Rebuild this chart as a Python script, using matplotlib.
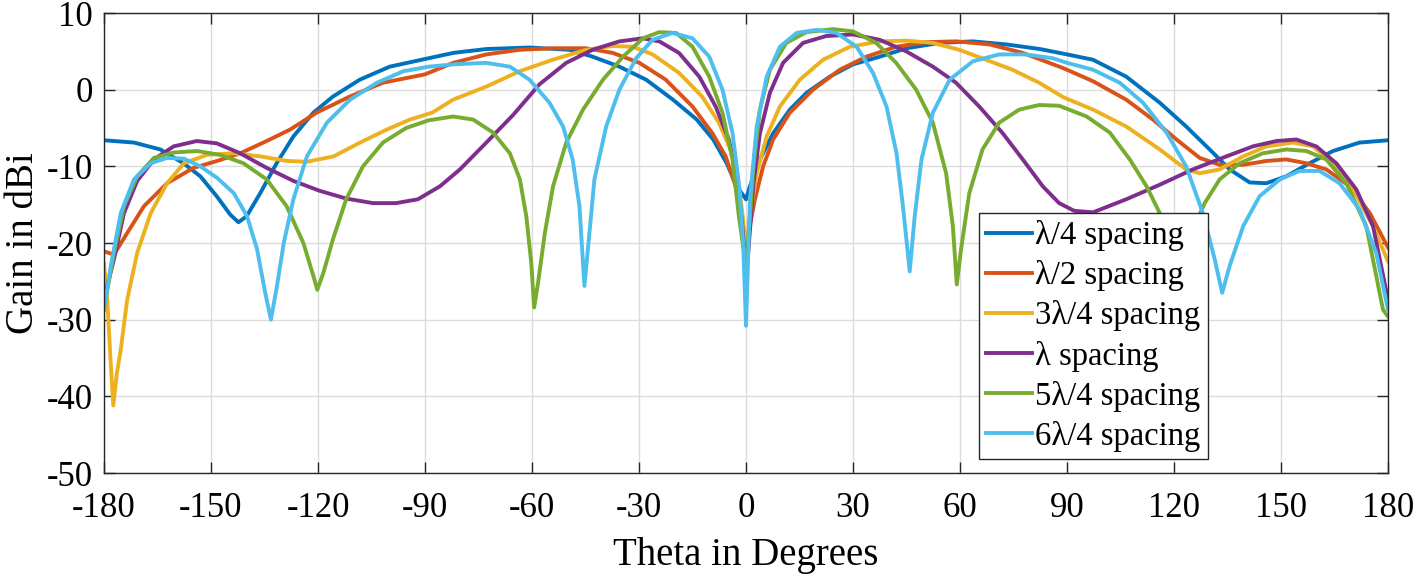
import matplotlib
matplotlib.use('Agg')
import matplotlib.pyplot as plt

# angle / gain samples, one pair of lists per spacing
theta_l4 = [-180, -171.6, -164.2, -157.7, -153, -148.4, -144.6, -142.3, -140, -136.2, -131.6, -126.9,
            -121.3, -115.8, -108.3, -99.9, -90, -82, -72.8, -60.7, -49.5, -43, -35.5, -28, -20.5,
            -13.8, -9.2, -5.4, -2.6, 0, 1.1, 3.9, 7.6, 12.3, 17, 23.5, 30, 37.5, 45, 54.3, 63.5, 73,
            82.4, 90, 97.3, 106.6, 116, 123.4, 130, 135.6, 141.2, 145.9, 151.5, 158, 164.6, 172, 180]
gain_l4 = [-6.6, -6.9, -7.8, -9.6, -11.3, -13.9, -16.3, -17.3, -16.5, -13.5, -9.6, -6.1,
           -3.0, -0.9, 1.3, 3.0, 4.0, 4.8, 5.3, 5.5, 5.2, 4.3, 3.0, 1.3, -1.3,
           -3.9, -6.5, -9.6, -12.6, -14.3, -12.6, -9.1, -5.7, -2.6, -0.4, 1.7, 3.3, 4.3, 5.4, 6.1, 6.3, 5.9,
           5.3, 4.6, 3.9, 1.7, -1.7, -4.8, -7.8, -10.4, -12.1, -12.2, -11.3, -9.6, -8.0, -6.9, -6.6]

theta_l2 = [-180, -177.2, -173.5, -168.8, -162.3, -154.9, -148.3, -141.8, -134.4, -127.8, -120.4,
            -111.1, -101.8, -90, -82.1, -72.8, -63.5, -54.1, -44.8, -37.4, -29.9, -22.5, -15, -9.4,
            -5.7, -2.9, -1.5, 0, 0.7, 2.5, 4.8, 7.6, 12.3, 18.8, 26.3, 33.7, 42.1, 50.5, 58.9, 68.3,
            77.6, 89, 97.3, 106.6, 114.1, 120.7, 127.2, 132.8, 139.4, 145.9, 151.5, 157.1, 162.7,
            169.3, 174.9, 180]
gain_l2 = [-21.1, -21.5, -18.7, -15.2, -12.2, -10.2, -9.3, -8.3, -6.7, -5.2, -3.0,
           -0.9, 0.9, 2.0, 3.5, 4.6, 5.2, 5.4, 5.4, 4.8, 3.5, 1.3, -2.2, -5.7,
           -8.7, -12.6, -16.1, -21.5, -18.7, -14.3, -10.0, -6.5, -3.0, 0.0, 2.6, 4.3, 5.6, 6.2, 6.3, 5.9,
           4.8, 2.8, 1.1, -1.3, -3.9, -6.5, -8.9, -9.8, -9.8, -9.3, -9.1, -9.6, -10.4,
           -12.6, -16.1, -20.6]

theta_3l4 = [-180, -179, -178.2, -177.4, -176.4, -175.3, -173.5, -170.7, -166.9, -162.3, -157.6,
             -151.1, -143.6, -136.2, -128.7, -123.1, -115.6, -108.2, -100.7, -94.2, -88, -82.1,
             -72.8, -63.5, -54.2, -44.8, -37.4, -31.8, -26.2, -18.8, -12.3, -7.6, -3.9, -2, -0.8,
             0, 0.6, 1.1, 3, 5.8, 9.5, 15.1, 21.6, 29.1, 37.5, 45, 52.4, 59.8, 67.3, 74.7, 82.2, 89,
             97.3, 106.6, 116, 123.4, 127.2, 132.8, 139.4, 145.9, 153.4, 159, 164.6, 170.2, 175.8, 180]
gain_3l4 = [-22.7, -28, -35, -41.2, -37, -33.9, -27.4, -21.3, -16.1, -12.2, -9.6,
            -8.5, -8.3, -8.7, -9.3, -9.4, -8.7, -6.9, -5.2, -3.9, -3.0, -1.3,
            0.4, 2.4, 3.9, 5.2, 5.7, 5.6, 4.6, 2.2, -0.9, -4.3, -8.3, -12.6, -17.0,
            -21.5, -18.5, -16.5, -10.9, -6.1, -2.2, 1.3, 3.9, 5.6, 6.3, 6.4, 6.1, 5.2, 3.9, 2.6, 0.9, -1.0,
            -2.6, -4.8, -7.8, -10.4, -10.9, -10.4, -8.7, -7.4, -6.9, -7.4, -9.6, -13.0, -17.8, -22.4]

theta_l = [-180, -177.2, -174.4, -170.7, -166, -160.5, -154, -148.4, -141.8, -134.4, -126.9, -119.5,
           -112.1, -104.6, -98.1, -92, -85.8, -80.2, -72.8, -65.3, -57.9, -50.4, -43, -35.5, -29,
           -24.3, -18.8, -13.1, -8.5, -4.8, -2.4, -1, 0, 0.7, 2.1, 3.9, 6.7, 10.4, 16, 22.5, 30, 37.5,
           44.9, 52.4, 58.9, 65.4, 72, 77.6, 83.2, 87.8, 92, 97.3, 106.6, 116, 125.3, 134.7, 142.1,
           148.7, 154.3, 159.9, 165.5, 171.1, 175.8, 180]
gain_l = [-27.3, -22.1, -16.1, -11.9, -9.1, -7.4, -6.7, -7.0, -8.3, -10.2, -11.9, -13.2,
          -14.2, -14.8, -14.8, -14.3, -12.6, -10.4, -6.9, -3.3, 0.7, 3.5, 5.2, 6.3, 6.7,
          6.3, 4.8, 1.7, -2.2, -6.5, -11.7, -18.0, -24.0, -20.8, -12.2, -5.7, -0.4, 3.5, 6.1, 7.0, 7.2, 6.5,
          5.0, 3.0, 0.9, -2.2, -5.7, -9.1, -12.6, -14.8, -15.8, -16.0, -14.3, -12.4, -10.4, -8.7, -7.4,
          -6.7, -6.5, -7.4, -9.6, -13.0, -17.8, -27.4]

theta_5l4 = [-180, -177.2, -174.4, -170.7, -166, -160.5, -154, -147.5, -140.9, -134.4, -128.8, -124.1,
             -121.3, -120.2, -118.5, -115.8, -112.1, -107.4, -101.8, -95.3, -89, -82.1, -76.5, -70.9,
             -66.2, -63.4, -61.6, -60.2, -59.4, -58.3, -56.4, -54.1, -50.4, -45.7, -40.1, -34.5, -28.9,
             -24.3, -19.6, -15, -10.3, -6.6, -3.8, -2, 0, 0.9, 2.1, 3.9, 6.7, 11.3, 16.9, 24.4, 30,
             36.5, 42.1, 47.7, 52.4, 56.1, 58, 59.1, 60.3, 62.6, 66.3, 71, 76.6, 82.2, 87.8, 95.5, 102,
             107.6, 112.3, 116, 119, 120.5, 122.5, 125.5, 128.6, 132.8, 138.4, 144.9, 151.5, 157.1,
             162.7, 168.3, 173.9, 178.6, 180]
gain_5l4 = [-28.5, -21.3, -15.2, -11.3, -8.9, -8.2, -8.0, -8.5, -9.6, -11.7, -15.2, -20.0,
            -24.3, -26.1, -23.9, -19.5, -14.3, -10.0, -6.9, -5.0, -4.0, -3.5, -3.9, -5.6,
            -8.3, -11.7, -16.5, -22.6, -28.4, -25.2, -18.7, -12.6, -6.9, -2.6, 1.3, 4.3, 6.7,
            7.5, 7.4, 5.6, 1.7, -3.0, -9.1, -16.5, -23.0, -18.0, -10.0, -2.6, 2.6, 6.1, 7.5, 7.9, 7.6,
            6.1, 3.5, 0.0, -4.3, -10.9, -17.8, -25.4, -20.8, -13.5, -7.8, -4.3, -2.6, -2.0, -2.1, -3.5, -5.6,
            -9.1, -12.6, -16.1, -22.0, -26.0, -22.0, -18.0, -14.8, -11.7, -9.6, -8.3, -7.8, -8.0,
            -9.1, -12.2, -17.8, -28.7, -29.6]

theta_6l4 = [-180, -178.1, -175.3, -171.6, -166.9, -162.3, -157.6, -153, -148.3, -143.6, -139.9, -137.1,
             -134.8, -133.2, -131.5, -129.6, -126.9, -123.1, -117.5, -111, -103.5, -96.1, -89, -82.1,
             -72.8, -66.2, -60.7, -55.1, -51.3, -48.6, -46.7, -45.3, -43.9, -42.5, -39.2, -35.5, -30.8,
             -26.2, -20.6, -15, -10.3, -6.6, -3.8, -1.9, -0.8, 0, 0.6, 1.1, 3, 5.8, 9.5, 14.2, 19.8,
             25.4, 31, 35.6, 39.4, 42.2, 44, 45.9, 47.3, 49.2, 52.4, 57.1, 63.6, 71, 78.5, 86, 90, 97.3,
             104.8, 111.3, 117.9, 123.4, 128.1, 131.4, 133.5, 135.6, 139.4, 144, 149.7, 155.2, 160.8,
             166.4, 172, 176.7, 180]
gain_6l4 = [-28.7, -23.0, -16.1, -11.7, -9.6, -8.9, -9.0, -10.0, -11.5, -13.5, -16.5, -20.8,
            -26.5, -30.0, -25.6, -20.0, -14.3, -8.7, -4.3, -1.3, 0.9, 2.4, 3.0, 3.3,
            3.5, 3.0, 1.3, -1.7, -4.8, -9.1, -15.2, -25.6, -18.7, -11.7, -4.8, 0.0, 4.1,
            6.5, 7.4, 6.7, 4.3, 0.0, -5.6, -12.6, -20.0, -30.8, -22.0, -14.3, -4.8, 1.7, 5.6, 7.4, 7.8,
            7.4, 5.6, 2.2, -2.2, -8.3, -15.2, -23.7, -16.5, -9.1, -3.0, 1.3, 3.7, 4.6, 4.6, 4.1, 3.5, 2.6,
            0.9, -1.7, -5.6, -10.0, -16.1, -22.1, -26.5, -23.0, -17.8, -13.9, -11.7, -10.6, -10.6,
            -12.2, -15.6, -21.3, -28.7]

labels = ['λ/4 spacing', 'λ/2 spacing', '3λ/4 spacing', 'λ spacing', '5λ/4 spacing', '6λ/4 spacing']
colors = ['#0072BD', '#D95319', '#EDB120', '#7E2F8E', '#77AC30', '#4DBEEE']

series = [(theta_l4, gain_l4), (theta_l2, gain_l2), (theta_3l4, gain_3l4),
          (theta_l, gain_l), (theta_5l4, gain_5l4), (theta_6l4, gain_6l4)]

plt.rcParams['font.family'] = ['Liberation Serif', 'DejaVu Serif']
plt.rcParams['axes.unicode_minus'] = False

fig = plt.figure(figsize=(14.18, 5.76), dpi=100)
ax = fig.add_axes([104 / 1418, 103 / 576, 1284 / 1418, 460 / 576])

for (t, g), lab, c in zip(series, labels, colors):
    ax.plot(t, g, color=c, lw=2.8, label=lab, solid_joinstyle='round')

ax.set_xlim(-180, 180)
ax.set_ylim(-50, 10)
ax.set_xticks(range(-180, 181, 30))
ax.set_yticks(range(-50, 11, 10))
ax.grid(True, color='#dcdcdc', lw=1.0)
ax.set_axisbelow(True)

ax.tick_params(direction='in', length=8, width=1, labelsize=25, color='#262626',
               top=True, right=True)
ax.tick_params(axis='x', pad=14)
ax.tick_params(axis='y', pad=8)
for s in ax.spines.values():
    s.set_color('#262626')
    s.set_linewidth(1.0)

ax.set_xlabel('Theta in Degrees', fontsize=28, labelpad=8)
ax.set_ylabel('Gain in dBi', fontsize=28, labelpad=3)

leg = ax.legend(loc='upper left', bbox_to_anchor=((979 - 104) / 1284, (473 - 213) / 460),
                borderaxespad=0, fontsize=23.5, frameon=True, fancybox=False,
                handlelength=1.4, handletextpad=0.1, labelspacing=0.28,
                borderpad=0.22, framealpha=1)
leg.get_frame().set_edgecolor('#262626')
leg.get_frame().set_linewidth(1.0)

fig.savefig('out.png', dpi=100)
